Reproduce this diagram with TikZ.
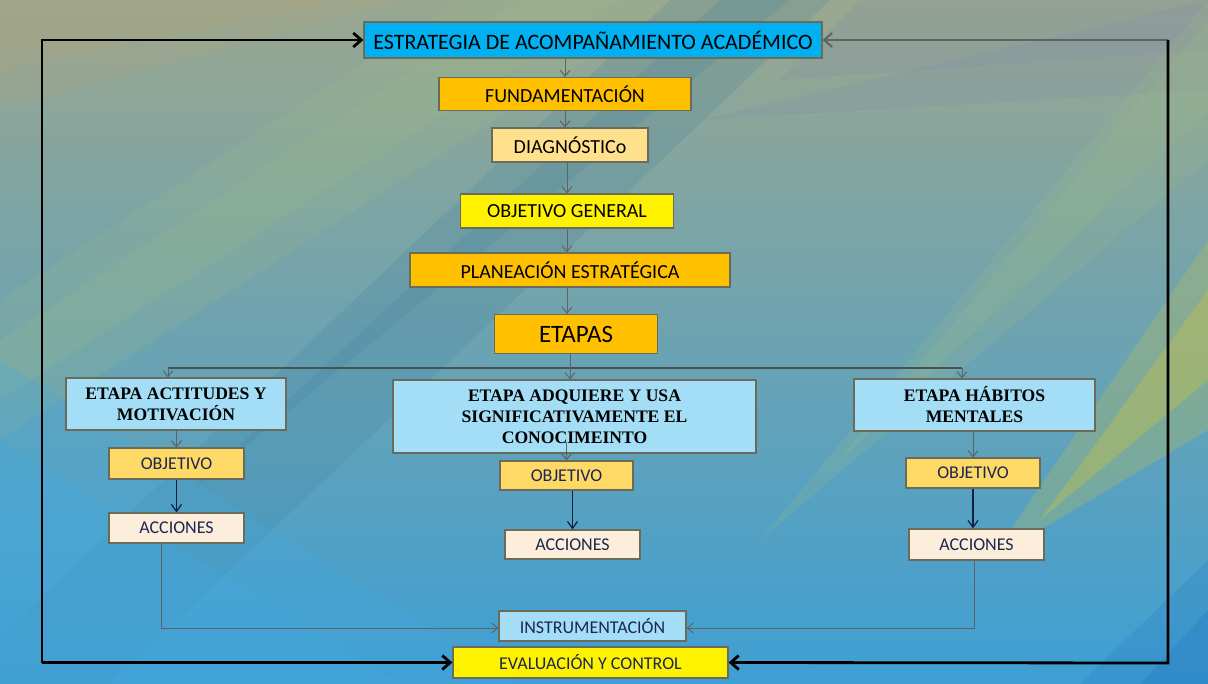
\documentclass[tikz,border=0pt]{standalone}
\usepackage{fontspec}
\setmainfont{Carlito}
\newfontfamily\stagefont{Liberation Serif}
\usetikzlibrary{arrows.meta, positioning}

\definecolor{bgtop}{HTML}{9AA78F}
\definecolor{bgmid}{HTML}{74A3A6}
\definecolor{bgbot}{HTML}{3E9FD4}
\definecolor{tanglow}{HTML}{B3A37C}
\definecolor{tealstreak}{HTML}{3F7F9E}
\definecolor{greenstreak}{HTML}{9DBB88}
\definecolor{yellowstreak}{HTML}{CFC43E}
\definecolor{slateblue}{HTML}{7E8CAA}
\definecolor{brightblue}{HTML}{45AAE0}
\definecolor{deepblue}{HTML}{2C7FC4}
\definecolor{skyblue}{HTML}{00B0F0}
\definecolor{gold}{HTML}{FFC000}
\definecolor{lightgold}{HTML}{FFE08C}
\definecolor{sand}{HTML}{FFD966}
\definecolor{paleblue}{HTML}{A3DEF6}
\definecolor{cream}{HTML}{FCEEDB}
\definecolor{navytext}{HTML}{1C2650}
\definecolor{boxline}{HTML}{6B6B5A}
\definecolor{flowgray}{HTML}{5E6466}

\begin{document}
\begin{tikzpicture}[x=0.5pt, y=-0.5pt,
  mainbox/.style={draw=boxline, line width=0.6pt, inner sep=0pt, align=center,
    text=black, font=\fontsize{10}{12}\selectfont},
  stagebox/.style={draw=boxline, line width=0.6pt, inner sep=0pt, align=center,
    fill=paleblue, text=black, font=\stagefont\bfseries\fontsize{8.8}{10.5}\selectfont},
  smallbox/.style={draw=boxline, line width=0.6pt, inner sep=0pt, align=center,
    text=navytext, font=\fontsize{9}{11}\selectfont},
  flow/.style={draw=flowgray, line width=0.5pt, -{Straight Barb[length=3pt,width=5pt]}},
  darkflow/.style={draw=navytext!80!black, line width=0.6pt, -{Straight Barb[length=3.5pt,width=5pt]}},
  branch/.style={draw=flowgray!80!black, line width=1pt},
  feedback/.style={draw=black, line width=1.4pt},
  tip/.style={-{Straight Barb[length=4pt,width=7pt]}}]
  \useasboundingbox (0,0) rectangle (1208,684);

  % background
  \begin{scope}
    \clip (0,0) rectangle (1208,684);
    \shade[top color=bgtop, middle color=bgmid, bottom color=bgbot] (0,0) rectangle (1208,684);
    \fill[tanglow, opacity=0.2] (0,110) -- (0,0) -- (400,0) -- cycle;
    \fill[tanglow, opacity=0.2] (0,70) -- (0,0) -- (340,0) -- cycle;
    \fill[slateblue, opacity=0.2] (700,120) -- (1208,0) -- (1208,90) -- cycle;
    \fill[slateblue, opacity=0.2] (780,80) -- (860,0) -- (1208,0) -- (1208,50) -- cycle;
    \fill[greenstreak, opacity=0.2] (0,440) -- (0,300) -- (460,0) -- (680,0) -- cycle;
    \fill[greenstreak, opacity=0.2] (0,400) -- (0,340) -- (520,0) -- (620,0) -- cycle;
    \fill[tealstreak, opacity=0.2] (-70,703) -- (90,703) -- (830,0) -- (670,0) -- cycle;
    \fill[tealstreak, opacity=0.2] (180,500) -- (790,0) -- (720,0) -- cycle;
    \fill[greenstreak, opacity=0.2] (760,540) -- (1208,160) -- (1208,0) -- cycle;
    \fill[greenstreak, opacity=0.2] (830,470) -- (1208,110) -- (1208,20) -- cycle;
    \fill[yellowstreak, opacity=0.25] (990,560) -- (1208,430) -- (1208,240) -- cycle;
    \fill[yellowstreak, opacity=0.35] (1040,520) -- (1208,380) -- (1208,290) -- cycle;
    \fill[brightblue, opacity=0.25] (0,684) -- (520,684) -- (0,360) -- cycle;
    \fill[brightblue, opacity=0.3] (0,684) -- (400,684) -- (0,440) -- cycle;
    \fill[deepblue, opacity=0.3] (1080,684) -- (1208,684) -- (1208,560) -- cycle;
    \fill[deepblue, opacity=0.4] (1140,684) -- (1208,684) -- (1208,610) -- cycle;
  \end{scope}

  % main column
  \node[mainbox, fill=skyblue, minimum width=229pt, minimum height=18pt,
    font=\fontsize{11}{13}\selectfont] (estr) at (593,40) {ESTRATEGIA DE ACOMPAÑAMIENTO ACADÉMICO};
  \node[mainbox, fill=gold, minimum width=126pt, minimum height=16.5pt] (fund) at (565,94) {FUNDAMENTACIÓN};
  \node[mainbox, fill=lightgold, minimum width=78pt, minimum height=17pt] (diag) at (570,145) {DIAGNÓSTICo};
  \node[mainbox, fill=yellow, minimum width=106.5pt, minimum height=17pt] (objg) at (567,211) {OBJETIVO GENERAL};
  \node[mainbox, fill=gold, minimum width=160pt, minimum height=17pt] (plan) at (570,270) {PLANEACIÓN ESTRATÉGICA};
  \node[mainbox, fill=gold, minimum width=81.5pt, minimum height=19.5pt,
    font=\fontsize{12.5}{14}\selectfont] (etapas) at (576,334) {ETAPAS};

  \draw[flow] (estr.south -| fund.north) -- (fund.north);
  \draw[flow] (fund.south) -- (fund.south |- diag.north);
  \draw[flow] (diag.south -| objg.north) -- (objg.north);
  \draw[flow] (objg.south) -- (objg.south |- plan.north);
  \draw[flow] (objg.south |- plan.south) -- (objg.south |- etapas.north);

  % stages
  \node[stagebox, minimum width=110pt, minimum height=26pt] (act) at (176,404) {ETAPA ACTITUDES Y\\MOTIVACIÓN};
  \node[stagebox, minimum width=181.5pt, minimum height=36.5pt] (adq) at (574.5,416.5) {ETAPA ADQUIERE Y USA\\SIGNIFICATIVAMENTE EL\\CONOCIMEINTO};
  \node[stagebox, minimum width=120.5pt, minimum height=26pt] (hab) at (974.5,405) {ETAPA HÁBITOS\\MENTALES};

  \coordinate (barL) at (168,368);
  \coordinate (barR) at (962,368);
  \draw[branch] (barL) -- (barR);
  \draw[flow] (barL) -- (barL |- act.north);
  \draw[flow] (barR) -- (barR |- hab.north);
  \draw[flow] (etapas.south -| 570,0) -- (adq.north -| 570,0);

  % objectives and actions
  \node[smallbox, fill=sand, minimum width=67.5pt, minimum height=15.5pt] (obj1) at (176.5,463.5) {OBJETIVO};
  \node[smallbox, fill=cream, minimum width=67.5pt, minimum height=15pt] (acc1) at (176.5,528) {ACCIONES};
  \node[smallbox, fill=sand, minimum width=66.5pt, minimum height=14.5pt] (obj2) at (566.5,475.5) {OBJETIVO};
  \node[smallbox, fill=cream, minimum width=67.5pt, minimum height=14.5pt] (acc2) at (572.5,544.5) {ACCIONES};
  \node[smallbox, fill=sand, minimum width=67pt, minimum height=15pt] (obj3) at (973,473) {OBJETIVO};
  \node[smallbox, fill=cream, minimum width=67.5pt, minimum height=15.5pt] (acc3) at (976.5,544.5) {ACCIONES};

  \draw[flow] (act.south -| obj1.north) -- (obj1.north);
  \draw[darkflow] (obj1.south) -- (acc1.north);
  \draw[flow] ([yshift=6pt]adq.south -| obj2.north) -- (obj2.north);
  \draw[darkflow] (obj2.south -| acc2.north) -- (acc2.north);
  \draw[flow] (hab.south -| obj3.north) -- (obj3.north);
  \draw[darkflow] (obj3.south) -- (obj3.south |- acc3.north);

  % instrumentation and evaluation
  \node[smallbox, fill=paleblue, minimum width=93.5pt, minimum height=15pt] (inst) at (592.5,626) {INSTRUMENTACIÓN};
  \node[smallbox, fill=yellow, minimum width=137.5pt, minimum height=15.5pt] (eval) at (590.5,662.5) {EVALUACIÓN Y CONTROL};

  \coordinate (c1) at (161,628);
  \coordinate (c3) at (974,628);
  \draw[flow] (acc1.south -| c1) -- (c1) -- (c1 -| inst.west);
  \draw[flow] (acc3.south -| c3) -- (c3) -- (c3 -| inst.east);

  % feedback loop
  \coordinate (lt) at (42,40);
  \coordinate (lb) at (42,663);
  \coordinate (rt) at (1168,40);
  \coordinate (rb) at (1168,663);
  \draw[feedback, tip] (lb) -- (lt) -- (estr.west);
  \draw[feedback, tip] (lt |- eval.west) -- (eval.west);
  \draw[flowgray, line width=1pt, tip] (rt) -- (estr.east);
  \draw[feedback, tip] (rt) -- (rb) -- (eval.east);
\end{tikzpicture}
\end{document}
